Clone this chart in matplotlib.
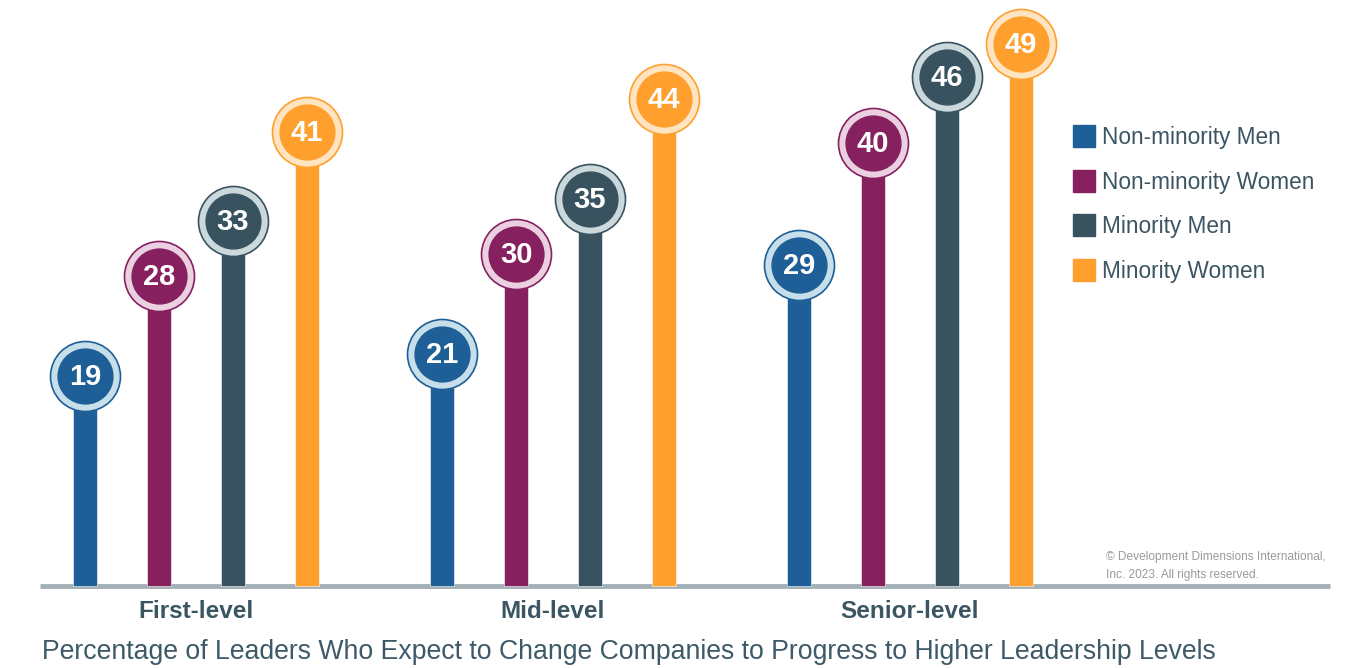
import numpy as np
import matplotlib.pyplot as plt
from matplotlib.lines import Line2D

levels = ["First-level", "Mid-level", "Senior-level"]
series = ["Non-minority Men", "Non-minority Women", "Minority Men", "Minority Women"]
nm_men = [19, 21, 29]
nm_women = [28, 30, 40]
m_men = [33, 35, 46]
m_women = [41, 44, 49]
values = [nm_men, nm_women, m_men, m_women]

colors = ["#1d5f96", "#86205f", "#38535f", "#ffa02e"]
rings = ["#c6dfea", "#ead0e0", "#cbd8dc", "#ffe4c2"]
text_col = "#3b5563"
fam = ["Liberation Sans", "DejaVu Sans"]

fig = plt.figure(figsize=(13.47, 6.68), dpi=100)
ax = fig.add_axes([0, 0, 1, 1])
ax.set_xlim(-196 / 357, (1347 - 196) / 357)
ax.set_ylim(-82 / 11.07, 586 / 11.07)
ax.axis("off")

x = np.arange(len(levels))
step = 73.7 / 357
offsets = (np.arange(4) - 1.5) * step

ax.plot([-156 / 357, (1330 - 196) / 357], [0, 0], color="#a3b0b6", lw=3.5,
        solid_capstyle="butt", zorder=1)

for i in range(4):
    xs = x + offsets[i]
    ax.bar(xs, values[i], width=24 / 357, color=colors[i], zorder=2,
           edgecolor="white", linewidth=0.4)
    ax.scatter(xs, values[i], s=2540, color=rings[i], edgecolors=colors[i],
               linewidths=1.2, zorder=3)
    ax.scatter(xs, values[i], s=1560, color=colors[i], zorder=4)
    for xi, v in zip(xs, values[i]):
        ax.text(xi, v - 0.1, str(v), ha="center", va="center", color="white",
                fontsize=21, fontweight="bold", zorder=5, family=fam)

for xi, lab in zip(x, levels):
    ax.text(xi, -2.3, lab, ha="center", va="center", fontsize=17.5,
            fontweight="bold", color=text_col, family=fam)

fig.text(42 / 1347, 1 - 652 / 668, "Percentage of Leaders Who Expect to Change Companies to Progress to Higher Leadership Levels",
         ha="left", va="center", fontsize=19.2, color="#3d5a68", family=fam)

fig.text(1106 / 1347, 1 - 566 / 668, "\u00a9 Development Dimensions International,\nInc. 2023. All rights reserved.",
         ha="left", va="center", fontsize=8.6, color="#9a9a9a", linespacing=1.75,
         family=fam)

handles = [Line2D([], [], marker="s", ls="", markersize=16, color=c) for c in colors]
leg = fig.legend(handles, series, loc="upper left", bbox_to_anchor=(1052 / 1347, 1 - 106 / 668),
                 frameon=False, handletextpad=0.3, labelspacing=0.95, handlelength=1.0,
                 prop={"family": fam, "size": 16.3})
for t in leg.get_texts():
    t.set_color(text_col)

fig.savefig("out.png", dpi=100)
